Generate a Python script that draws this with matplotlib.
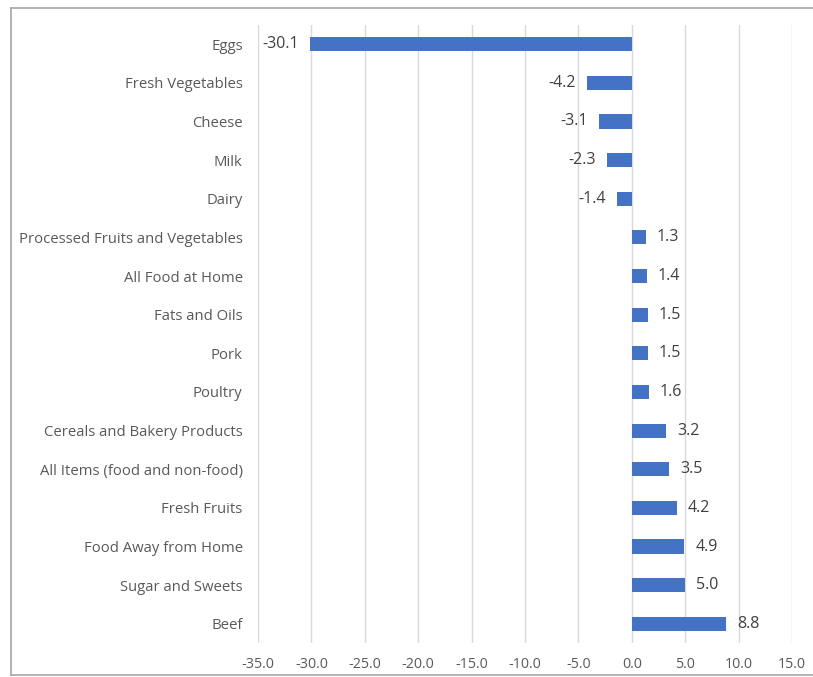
import matplotlib
matplotlib.use("Agg")
import matplotlib.pyplot as plt
from matplotlib.lines import Line2D

categories = ["Eggs", "Fresh Vegetables", "Cheese", "Milk", "Dairy",
              "Processed Fruits and Vegetables", "All Food at Home", "Fats and Oils",
              "Pork", "Poultry", "Cereals and Bakery Products",
              "All Items (food and non-food)", "Fresh Fruits", "Food Away from Home",
              "Sugar and Sweets", "Beef"]
values = [-30.1, -4.2, -3.1, -2.3, -1.4, 1.3, 1.4, 1.5, 1.5, 1.6, 3.2, 3.5, 4.2, 4.9, 5.0, 8.8]
xticks = [-35, -30, -25, -20, -15, -10, -5, 0, 5, 10, 15]

plt.rcParams['font.family'] = ['Open Sans', 'DejaVu Sans']
text_color = '#595959'

fig = plt.figure(figsize=(8.13, 6.77), dpi=100)
L, T, B = 11/813, 1 - 8/677, 2.5/677
fig.add_artist(Line2D([L, L], [B, T], transform=fig.transFigure, color='#A6A6A6', lw=1.2))
fig.add_artist(Line2D([L, 1.0], [T, T], transform=fig.transFigure, color='#A6A6A6', lw=1.2))
fig.add_artist(Line2D([L, 1.0], [B, B], transform=fig.transFigure, color='#A6A6A6', lw=1.2))

ax = fig.add_axes([258/813, 1 - 643.3/677, (792 - 258)/813, (643.3 - 24.7)/677])

n = len(categories)
ypos = list(range(n))
ax.barh(ypos, values, height=0.37, color='#4472C4', zorder=3)
ax.set_ylim(n - 0.5, -0.5)
ax.set_xlim(-35, 15)
ax.set_xticks(xticks)
ax.set_xticklabels([f"{t:.1f}" for t in xticks], color=text_color, fontsize=10.3)
ax.set_yticks(ypos)
ax.set_yticklabels(categories, color=text_color, fontsize=10.7)
ax.tick_params(axis='both', length=0)
ax.tick_params(axis='y', pad=11)
ax.tick_params(axis='x', pad=10)
ax.grid(axis='x', color='#D9D9D9', linewidth=1, zorder=0)
for s in ax.spines.values():
    s.set_visible(False)

for y, v in zip(ypos, values):
    if v < 0:
        ax.annotate(f"{v:.1f}", (v, y), xytext=(-8, 0), textcoords='offset points',
                    ha='right', va='center', color='#404040', fontsize=11.5)
    else:
        ax.annotate(f"{v:.1f}", (v, y), xytext=(8, 0), textcoords='offset points',
                    ha='left', va='center', color='#404040', fontsize=11.5)

fig.savefig("out.png", dpi=100)
